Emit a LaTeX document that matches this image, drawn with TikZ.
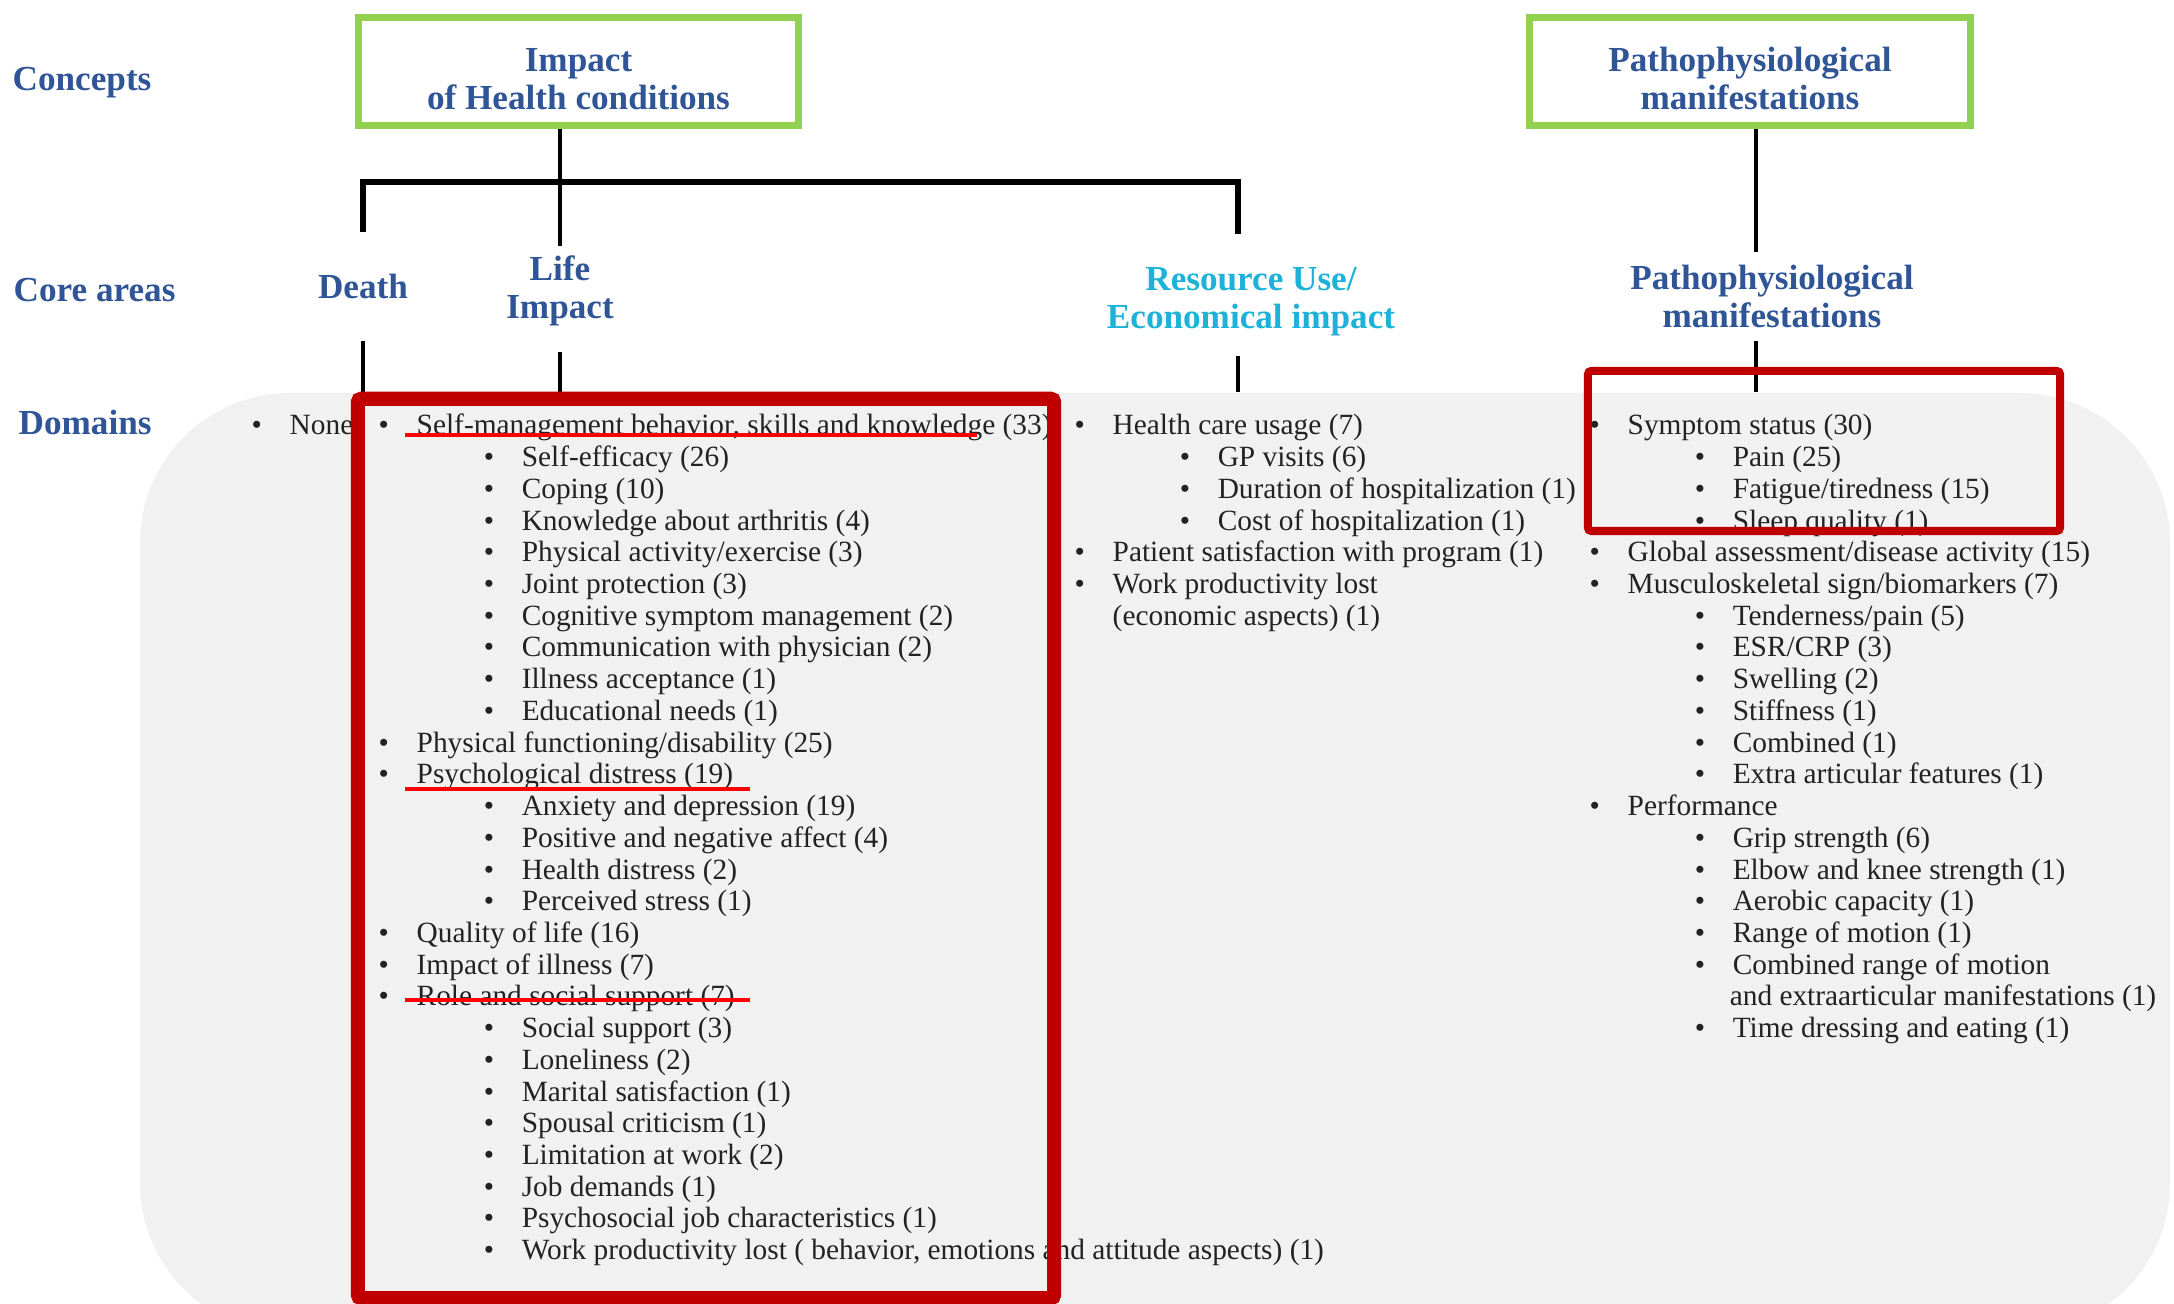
\documentclass[tikz,border=0pt]{standalone}
\usepackage{fontspec}
\setmainfont{Liberation Serif}
\definecolor{headblue}{HTML}{2F5597}
\definecolor{rescyan}{HTML}{1FB2D8}
\definecolor{conceptgreen}{HTML}{92D050}
\definecolor{framered}{HTML}{C00000}
\definecolor{markred}{HTML}{FF0000}
\definecolor{panel}{HTML}{F1F1F1}
\definecolor{bodytext}{HTML}{222222}
\newcommand{\domitem}[1]{\strut\makebox[0.38cm][l]{\textbullet}#1}
\newcommand{\subdomitem}[1]{\strut\hspace*{1.05cm}\makebox[0.38cm][l]{\textbullet}#1}
\newcommand{\domcont}[1]{\strut\hspace*{0.38cm}#1}
\newcommand{\subdomcont}[1]{\strut\hspace*{1.40cm}#1}
\tikzset{
  headfont/.style={font=\bfseries\fontsize{10}{10.8}\selectfont, text=headblue},
  rowlabel/.style={headfont, anchor=west, inner sep=0pt},
  conceptbox/.style={headfont, draw=conceptgreen, line width=2pt, align=center,
    minimum width=4.40cm, minimum height=1.08cm, inner sep=0pt, text height=21.7pt},
  coretext/.style={headfont, align=center, inner sep=0pt},
  domainlist/.style={anchor=north west, align=left, inner xsep=0pt, inner ysep=5.7pt,
    font=\fontsize{8.35}{9.02}\selectfont, text=bodytext},
  tree/.style={draw=black, line width=1.2pt},
  bar/.style={draw=black, line width=1.8pt},
  redmark/.style={draw=markred, line width=1.2pt},
  redframe/.style={draw=framered, line width=4pt, rounded corners=1pt, inner sep=0pt}
}
\begin{document}
\begin{tikzpicture}[x=0.01cm,y=-0.01cm]
  \useasboundingbox (0,0) rectangle (2174,1304);
  \clip (0,0) rectangle (2174,1304);
  \fill[panel, rounded corners=1.5cm] (140,393) rectangle (2170,1333);

  % Row labels.
  \node[rowlabel] (lblconcepts) at (12,83) {Concepts};
  \node[rowlabel] (lblcore) at (13,290) {Core areas};
  \node[rowlabel] (lbldomains) at (18,422) {Domains};

  % Concepts.
  \node[conceptbox] (impact) at (578.5,71.5) {Impact\\of Health conditions};
  \node[conceptbox] (patho) at (1750,71.5) {Pathophysiological\\manifestations};

  % Core areas.
  \node[coretext, minimum height=1.07cm] (death) at (363,286.5) {Death};
  \node[coretext, minimum height=1.04cm, text depth=6.8pt] (life) at (560,299) {Life\\Impact};
  \node[coretext, text=rescyan, minimum height=1.20cm, text height=21.3pt] (resource) at (1251,295) {Resource Use/\\Economical impact};
  \node[coretext, minimum height=0.87cm] (pathocore) at (1772,296.5) {Pathophysiological\\manifestations};

  % Domains.
  \node[domainlist] (nonelist) at (251,392) {\domitem{None}};
  \node[domainlist] (lifelist) at (378,392) {%
    \domitem{Self-management behavior, skills and knowledge (33)}\\
    \subdomitem{Self-efficacy (26)}\\
    \subdomitem{Coping (10)}\\
    \subdomitem{Knowledge about arthritis (4)}\\
    \subdomitem{Physical activity/exercise (3)}\\
    \subdomitem{Joint protection (3)}\\
    \subdomitem{Cognitive symptom management (2)}\\
    \subdomitem{Communication with physician (2)}\\
    \subdomitem{Illness acceptance (1)}\\
    \subdomitem{Educational needs (1)}\\
    \domitem{Physical functioning/disability (25)}\\
    \domitem{Psychological distress (19)}\\
    \subdomitem{Anxiety and depression (19)}\\
    \subdomitem{Positive and negative affect (4)}\\
    \subdomitem{Health distress (2)}\\
    \subdomitem{Perceived stress (1)}\\
    \domitem{Quality of life (16)}\\
    \domitem{Impact of illness (7)}\\
    \domitem{Role and social support (7)}\\
    \subdomitem{Social support (3)}\\
    \subdomitem{Loneliness (2)}\\
    \subdomitem{Marital satisfaction (1)}\\
    \subdomitem{Spousal criticism (1)}\\
    \subdomitem{Limitation at work (2)}\\
    \subdomitem{Job demands (1)}\\
    \subdomitem{Psychosocial job characteristics (1)}\\
    \subdomitem{Work productivity lost ( behavior, emotions and attitude aspects) (1)}};
  \node[domainlist] (reslist) at (1074,392) {%
    \domitem{Health care usage (7)}\\
    \subdomitem{GP visits (6)}\\
    \subdomitem{Duration of hospitalization (1)}\\
    \subdomitem{Cost of hospitalization (1)}\\
    \domitem{Patient satisfaction with program (1)}\\
    \domitem{Work productivity lost}\\
    \domcont{(economic aspects) (1)}};
  \node[domainlist] (patholist) at (1589,392) {%
    \domitem{Symptom status (30)}\\
    \subdomitem{Pain (25)}\\
    \subdomitem{Fatigue/tiredness (15)}\\
    \subdomitem{Sleep quality (1)}\\
    \domitem{Global assessment/disease activity (15)}\\
    \domitem{Musculoskeletal sign/biomarkers (7)}\\
    \subdomitem{Tenderness/pain (5)}\\
    \subdomitem{ESR/CRP (3)}\\
    \subdomitem{Swelling (2)}\\
    \subdomitem{Stiffness (1)}\\
    \subdomitem{Combined (1)}\\
    \subdomitem{Extra articular features (1)}\\
    \domitem{Performance}\\
    \subdomitem{Grip strength (6)}\\
    \subdomitem{Elbow and knee strength (1)}\\
    \subdomitem{Aerobic capacity (1)}\\
    \subdomitem{Range of motion (1)}\\
    \subdomitem{Combined range of motion}\\
    \subdomcont{and extraarticular manifestations (1)}\\
    \subdomitem{Time dressing and eating (1)}};

  % Tree lines.
  \coordinate (fork) at (560,182);
  \draw[tree] (impact.south -| life.north) -- (life.north);
  \draw[bar] (death.north) |- (fork) -| ([xshift=-0.13cm]resource.north);
  \draw[tree] ([xshift=0.06cm]patho.south) -- ([xshift=0.06cm]patho.south |- pathocore.north);
  \draw[tree] (death.south) -- (death.south |- nonelist.north);
  \draw[tree] (life.south) -- (life.south |- lifelist.north);
  \draw[tree] ([xshift=-0.13cm]resource.south) -- ([xshift=-0.13cm]resource.south |- reslist.north);
  \draw[tree] ([xshift=0.06cm]patho.south |- pathocore.south) -- ([xshift=0.06cm]patho.south |- patholist.north);

  % Highlights.
  \draw[redmark] (405,435) -- (977,435);
  \draw[redmark] (405,789) -- (750,789);
  \draw[redmark] (405,1000) -- (750,1000);
  \node[redframe, minimum width=6.96cm, minimum height=8.99cm] (lifeframe) at (706,848.5) {};
  \node[redframe, line width=2.3pt, minimum width=4.72cm, minimum height=1.60cm] (pathoframe) at (1824,451) {};
\end{tikzpicture}
\end{document}
